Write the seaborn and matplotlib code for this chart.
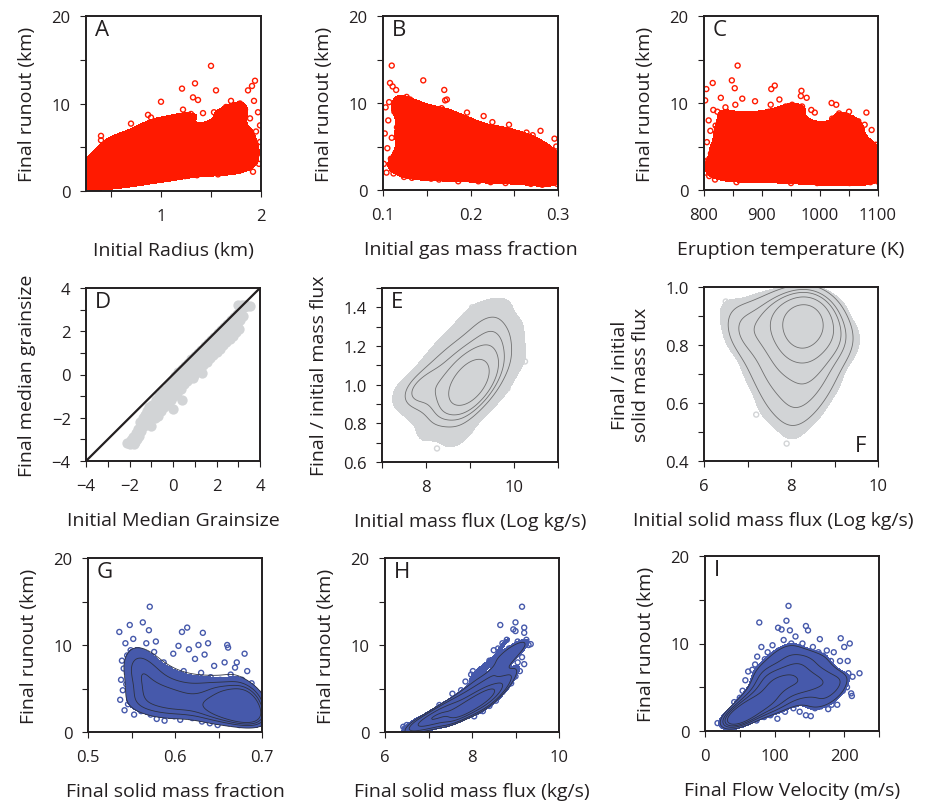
import numpy as np
import pandas as pd
import seaborn as sns
import matplotlib
matplotlib.use("Agg")
import matplotlib.pyplot as plt
from matplotlib.colors import ListedColormap
from matplotlib.ticker import MultipleLocator

sns.set_theme(style="ticks")
plt.rcParams["font.family"] = ["Open Sans", "DejaVu Sans"]

RED = "#ff1a00"
BLUE = "#4659ab"
GREY = "#d2d4d6"

# A: initial radius (km) vs final runout (km)
radius_pts = [
    (0.26, 0.8), (0.27, 1.5), (0.28, 2.3), (0.29, 3.4), (0.31, 1.1), (0.32, 2.8), (0.33, 3.9), (0.34, 0.7),
    (0.35, 1.9), (0.37, 2.6), (0.38, 4.4), (0.39, 1.3), (0.40, 6.3), (0.40, 5.8), (0.41, 3.1), (0.42, 0.9),
    (0.43, 2.0), (0.44, 3.6), (0.46, 1.5), (0.47, 4.1), (0.48, 2.7), (0.50, 0.8), (0.51, 3.3), (0.52, 5.2),
    (0.53, 1.8), (0.55, 2.4), (0.56, 6.0), (0.57, 4.5), (0.58, 1.2), (0.59, 3.0), (0.61, 5.5), (0.62, 2.1),
    (0.63, 3.8), (0.64, 0.9), (0.65, 6.3), (0.66, 2.9), (0.67, 4.7), (0.68, 1.6), (0.70, 7.7), (0.70, 3.5),
    (0.72, 5.1), (0.73, 2.3), (0.74, 1.1), (0.76, 4.2), (0.77, 6.0), (0.78, 2.6), (0.79, 3.4), (0.80, 1.4),
    (0.81, 7.1), (0.82, 5.0), (0.83, 2.0), (0.85, 4.0), (0.86, 6.5), (0.87, 8.7), (0.88, 1.3), (0.89, 3.1),
    (0.90, 8.4), (0.91, 5.4), (0.92, 2.4), (0.93, 7.0), (0.95, 3.8), (0.96, 1.6), (0.97, 6.0), (0.98, 4.6),
    (1.00, 10.2), (1.01, 2.9), (1.02, 7.8), (1.03, 5.2), (1.04, 1.5), (1.05, 3.6), (1.06, 6.6), (1.08, 8.3),
    (1.09, 2.2), (1.10, 4.4), (1.12, 6.0), (1.13, 1.6), (1.14, 3.2), (1.15, 7.3), (1.17, 5.0), (1.18, 2.5),
    (1.20, 8.0), (1.21, 11.7), (1.22, 9.3), (1.23, 3.9), (1.24, 1.7), (1.26, 6.4), (1.27, 4.5), (1.28, 2.8),
    (1.30, 8.8), (1.31, 5.6), (1.32, 10.7), (1.33, 3.3), (1.34, 12.3), (1.35, 7.2), (1.36, 1.8), (1.37, 10.4),
    (1.38, 4.9), (1.40, 6.3), (1.41, 2.6), (1.42, 8.9), (1.44, 3.8), (1.45, 5.5), (1.47, 7.0), (1.48, 2.1),
    (1.50, 14.3), (1.49, 4.3), (1.52, 6.6), (1.53, 9.0), (1.54, 3.2), (1.55, 11.5), (1.56, 5.1), (1.57, 1.9),
    (1.59, 8.0), (1.60, 4.0), (1.62, 6.8), (1.63, 2.5), (1.65, 9.6), (1.66, 5.5), (1.67, 3.4), (1.69, 7.7),
    (1.70, 10.3), (1.71, 4.6), (1.72, 2.2), (1.74, 6.2), (1.75, 8.8), (1.77, 3.6), (1.78, 5.3), (1.79, 10.0),
    (1.80, 2.4), (1.81, 7.2), (1.82, 4.4), (1.84, 9.3), (1.85, 6.0), (1.86, 2.8), (1.87, 11.5), (1.88, 3.9),
    (1.89, 8.3), (1.90, 5.0), (1.91, 12.0), (1.92, 2.2), (1.93, 10.3), (1.94, 12.6), (1.95, 6.8), (1.96, 4.2),
    (1.97, 9.0), (1.98, 3.1), (1.99, 7.5), (1.99, 5.6),
]

# B: initial gas mass fraction vs final runout (km)
gas_pts = [
    (0.101, 3.0), (0.102, 6.5), (0.103, 9.5), (0.104, 2.0), (0.105, 4.8), (0.106, 8.0), (0.107, 10.1),
    (0.108, 12.3), (0.109, 3.6), (0.110, 14.3), (0.110, 6.0), (0.111, 11.9), (0.112, 1.9), (0.113, 9.0),
    (0.114, 4.2), (0.115, 11.5), (0.116, 7.2), (0.117, 2.6), (0.118, 10.3), (0.119, 5.4), (0.121, 8.4),
    (0.122, 3.1), (0.123, 6.8), (0.124, 1.5), (0.125, 9.7), (0.126, 4.5), (0.127, 10.7), (0.128, 7.5),
    (0.129, 2.4), (0.130, 5.7), (0.131, 10.4), (0.132, 3.4), (0.133, 1.4), (0.134, 8.6), (0.135, 6.2),
    (0.136, 9.6), (0.137, 4.0), (0.138, 2.0), (0.139, 7.8), (0.141, 5.0), (0.142, 9.0), (0.143, 3.0),
    (0.144, 6.6), (0.145, 1.6), (0.146, 12.6), (0.147, 8.2), (0.148, 4.3), (0.149, 9.2), (0.150, 2.5),
    (0.152, 7.0), (0.153, 5.6), (0.155, 1.3), (0.156, 8.6), (0.157, 3.7), (0.158, 6.0), (0.160, 2.2),
    (0.161, 4.9), (0.162, 8.5), (0.164, 1.2), (0.165, 7.2), (0.166, 3.2), (0.167, 9.4), (0.168, 5.3),
    (0.169, 2.0), (0.170, 11.5), (0.171, 10.3), (0.172, 6.5), (0.173, 10.4), (0.174, 4.0), (0.175, 8.8),
    (0.176, 1.5), (0.178, 7.5), (0.179, 3.0), (0.181, 5.8), (0.182, 8.4), (0.183, 2.4), (0.185, 4.6),
    (0.186, 1.0), (0.187, 6.8), (0.188, 3.6), (0.190, 7.8), (0.191, 5.2), (0.192, 1.7), (0.194, 6.1),
    (0.195, 2.8), (0.196, 8.9), (0.197, 4.1), (0.199, 7.4), (0.200, 1.2), (0.201, 5.5), (0.203, 3.3),
    (0.204, 7.6), (0.205, 2.0), (0.207, 6.0), (0.208, 4.4), (0.209, 1.0), (0.211, 5.0), (0.212, 3.0),
    (0.214, 6.5), (0.215, 8.5), (0.216, 1.7), (0.218, 4.2), (0.219, 2.4), (0.221, 5.4), (0.222, 3.6),
    (0.223, 0.9), (0.225, 7.8), (0.226, 4.8), (0.227, 2.0), (0.229, 6.4), (0.230, 3.0), (0.232, 1.3),
    (0.233, 5.2), (0.235, 3.8), (0.236, 7.0), (0.237, 2.3), (0.239, 4.6), (0.240, 0.8), (0.242, 5.8),
    (0.243, 3.2), (0.244, 7.5), (0.245, 6.6), (0.246, 1.6), (0.248, 4.1), (0.249, 2.6), (0.251, 5.0),
    (0.253, 1.0), (0.254, 3.5), (0.256, 5.8), (0.257, 2.2), (0.259, 4.4), (0.260, 1.4), (0.262, 3.1),
    (0.264, 6.6), (0.265, 5.0), (0.266, 2.0), (0.268, 3.8), (0.269, 0.7), (0.271, 6.3), (0.272, 2.8),
    (0.274, 4.6), (0.275, 1.2), (0.277, 3.4), (0.278, 5.2), (0.280, 6.8), (0.281, 2.0), (0.282, 0.6),
    (0.284, 4.0), (0.285, 2.6), (0.287, 1.5), (0.288, 3.6), (0.290, 4.4), (0.291, 0.9), (0.292, 2.3),
    (0.294, 3.1), (0.295, 1.4), (0.296, 5.9), (0.297, 4.0), (0.298, 2.0), (0.299, 0.7), (0.299, 3.3),
    (0.298, 5.0),
]

# C: eruption temperature (K) vs final runout (km)
temp_pts = [
    (802, 10.3), (803, 2.0), (804, 11.6), (805, 5.5), (806, 3.4), (808, 8.0), (809, 1.6), (811, 6.8),
    (812, 4.2), (813, 2.6), (815, 12.3), (816, 9.2), (817, 5.0), (819, 1.2), (820, 7.4), (822, 3.0),
    (823, 9.0), (825, 4.6), (826, 2.2), (828, 6.2), (829, 10.6), (831, 8.6), (832, 3.8), (834, 1.4),
    (835, 5.8), (837, 9.5), (838, 2.7), (840, 7.0), (841, 4.4), (843, 1.9), (845, 6.4), (846, 3.2),
    (848, 12.6), (849, 8.0), (850, 5.2), (851, 2.3), (853, 11.7), (854, 9.8), (855, 4.0), (856, 0.9),
    (858, 14.3), (859, 6.6), (860, 3.0), (862, 7.6), (863, 1.5), (865, 5.0), (866, 10.5), (868, 2.5),
    (869, 8.2), (870, 4.2), (872, 6.0), (873, 1.8), (875, 7.2), (876, 3.4), (878, 5.4), (880, 2.0),
    (881, 8.4), (883, 4.6), (884, 1.3), (886, 6.8), (888, 10.2), (889, 3.0), (891, 5.6), (892, 8.6),
    (894, 2.2), (895, 7.0), (897, 4.0), (898, 1.5), (900, 6.2), (902, 3.2), (903, 8.0), (905, 5.0),
    (906, 1.2), (908, 7.5), (909, 2.6), (911, 4.4), (912, 9.0), (913, 6.3), (915, 9.8), (916, 11.6),
    (917, 3.6), (919, 1.4), (920, 5.6), (922, 12.0), (923, 8.4), (924, 2.4), (926, 7.0), (927, 4.2),
    (929, 1.1), (930, 10.4), (931, 6.0), (933, 3.0), (935, 7.8), (936, 5.0), (938, 1.8), (940, 4.0),
    (941, 9.6), (943, 6.6), (944, 2.2), (946, 8.5), (947, 3.6), (949, 5.8), (950, 0.8), (952, 9.8),
    (953, 4.6), (955, 2.6), (956, 7.2), (958, 1.4), (959, 5.2), (961, 3.2), (962, 8.3), (964, 6.3),
    (965, 1.0), (967, 10.8), (968, 11.4), (969, 9.6), (970, 4.0), (972, 2.0), (973, 7.5), (975, 5.4),
    (977, 10.6), (978, 3.0), (980, 6.6), (981, 1.5), (983, 4.6), (985, 9.2), (986, 2.5), (988, 7.4),
    (989, 5.0), (991, 8.9), (992, 1.2), (994, 3.6), (995, 0.8), (997, 6.2), (998, 4.4), (1000, 2.2),
    (1002, 5.8), (1003, 3.0), (1005, 1.4), (1006, 4.8), (1008, 6.6), (1010, 2.6), (1011, 3.8), (1013, 1.0),
    (1014, 5.4), (1016, 7.0), (1018, 2.0), (1019, 4.2), (1020, 10.0), (1021, 8.2), (1022, 3.2), (1024, 5.8),
    (1025, 1.2), (1027, 6.6), (1028, 9.8), (1030, 2.6), (1031, 4.6), (1033, 8.8), (1034, 3.4), (1036, 1.0),
    (1037, 5.6), (1039, 7.2), (1040, 2.2), (1042, 4.0), (1043, 8.6), (1045, 6.2), (1046, 1.5), (1048, 3.0),
    (1050, 9.0), (1051, 0.8), (1052, 5.0), (1054, 2.4), (1056, 4.2), (1057, 7.0), (1058, 1.6), (1060, 7.5),
    (1061, 3.4), (1063, 5.4), (1064, 2.0), (1066, 7.9), (1067, 4.6), (1069, 1.2), (1070, 3.0), (1072, 6.0),
    (1073, 2.6), (1075, 4.4), (1077, 7.5), (1078, 1.4), (1080, 8.9), (1081, 3.6), (1083, 5.2), (1084, 2.0),
    (1086, 4.0), (1087, 0.9), (1089, 6.9), (1090, 2.8), (1092, 4.8), (1093, 1.5), (1095, 3.4), (1096, 5.2),
    (1098, 2.2), (1099, 4.0), (1099, 1.0),
]

# D: initial vs final median grainsize (phi)
grain_pts = [
    (-2.1, -3.15), (-2.0, -3.2), (-1.95, -3.05), (-1.9, -3.18), (-1.85, -2.9), (-1.8, -3.2), (-1.75, -3.1),
    (-1.7, -2.7), (-1.65, -3.0), (-1.6, -2.5), (-1.55, -2.85), (-1.5, -2.2), (-1.45, -2.6), (-1.4, -2.0),
    (-1.35, -2.4), (-1.3, -1.85), (-1.25, -2.2), (-1.2, -1.7), (-1.15, -2.3), (-1.1, -1.5), (-1.05, -1.95),
    (-1.0, -2.4), (-0.95, -1.4), (-0.9, -1.75), (-0.85, -2.0), (-0.8, -1.2), (-0.75, -1.55), (-0.7, -1.9),
    (-0.65, -1.0), (-0.6, -1.4), (-0.55, -1.7), (-0.5, -0.85), (-0.45, -1.2), (-0.4, -1.5), (-0.35, -0.7),
    (-0.3, -1.05), (-0.25, -1.35), (-0.2, -0.5), (-0.15, -0.9), (-0.1, -1.2), (-0.05, -0.3), (0.0, -0.7),
    (0.0, -1.6), (0.05, -1.0), (0.1, -0.05), (0.15, -0.5), (0.2, -0.85), (0.25, 0.1), (0.3, -0.3),
    (0.35, -0.65), (0.4, 0.25), (0.43, -1.2), (0.45, -0.1), (0.5, -0.45), (0.55, 0.4), (0.6, 0.05),
    (0.65, -0.3), (0.7, 0.55), (0.75, 0.2), (0.8, -0.15), (0.85, 0.7), (0.9, 0.35), (0.92, -0.15),
    (0.95, 0.0), (1.0, 0.85), (1.05, 0.5), (1.1, 0.15), (1.15, 1.0), (1.2, 0.65), (1.25, 0.3), (1.3, 1.15),
    (1.35, 0.05), (1.35, 0.8), (1.4, 0.45), (1.45, 1.3), (1.5, 0.95), (1.55, 0.6), (1.6, 1.45), (1.65, 1.1),
    (1.7, 0.75), (1.75, 1.6), (1.8, 1.25), (1.85, 0.9), (1.85, 1.17), (1.9, 1.75), (1.95, 1.4), (2.0, 1.05),
    (2.05, 1.9), (2.1, 1.55), (2.15, 1.2), (2.2, 2.05), (2.25, 1.7), (2.3, 1.35), (2.35, 2.2), (2.4, 1.85),
    (2.45, 1.5), (2.5, 2.35), (2.55, 2.0), (2.6, 1.65), (2.65, 2.5), (2.7, 2.15), (2.75, 1.8), (2.8, 2.65),
    (2.85, 2.3), (2.9, 1.95), (2.95, 2.8), (3.0, 2.45), (3.0, 3.2), (3.05, 2.1), (3.1, 2.95), (3.1, 2.5),
    (3.15, 3.2), (3.2, 2.7), (3.25, 3.1), (3.3, 3.2), (3.4, 3.15), (3.55, 3.18),
]
one_to_one = [-4, 4]

# E: initial mass flux (log kg/s) vs final/initial mass flux
flux_pts = [
    (7.4, 0.97), (7.45, 0.98), (7.5, 0.96), (7.55, 0.91), (7.6, 0.92), (7.65, 0.98), (7.7, 0.95), (7.75, 1.0),
    (7.8, 0.9), (7.85, 0.97), (7.9, 1.03), (7.9, 0.87), (7.95, 0.94), (7.75, 0.86), (7.85, 0.8), (8.0, 0.76),
    (7.95, 1.07), (8.05, 0.99), (8.1, 0.9), (8.1, 1.1), (8.15, 0.84), (8.2, 1.0), (8.2, 1.14), (8.25, 0.93),
    (8.3, 0.8), (8.3, 1.06), (8.35, 1.2), (8.35, 0.88), (8.4, 0.97), (8.4, 1.12), (8.45, 0.78), (8.5, 1.03),
    (8.5, 0.92), (8.5, 1.25), (8.55, 1.1), (8.55, 0.85), (8.6, 0.99), (8.6, 1.18), (8.6, 0.74), (8.65, 0.9),
    (8.65, 1.05), (8.7, 1.3), (8.7, 0.96), (8.7, 0.8), (8.75, 1.13), (8.75, 1.02), (8.8, 0.88), (8.8, 1.22),
    (8.8, 0.72), (8.85, 1.08), (8.85, 0.95), (8.9, 1.36), (8.9, 1.15), (8.9, 1.0), (8.9, 0.82), (8.95, 1.26),
    (8.95, 0.91), (9.0, 1.05), (9.0, 1.2), (9.0, 0.76), (9.0, 0.97), (9.05, 1.4), (9.05, 1.1), (9.05, 0.88),
    (9.1, 1.3), (9.1, 1.02), (9.1, 0.93), (9.15, 1.17), (9.15, 0.84), (9.2, 1.35), (9.2, 1.08), (9.2, 0.98),
    (9.25, 1.24), (9.25, 0.9), (9.3, 1.4), (9.3, 1.14), (9.3, 1.02), (9.35, 1.3), (9.35, 0.95), (9.4, 1.2),
    (9.4, 1.06), (9.45, 1.37), (9.45, 0.88), (9.5, 1.28), (9.5, 1.12), (9.5, 1.0), (9.55, 1.42), (9.55, 1.2),
    (9.6, 1.32), (9.6, 1.06), (9.6, 0.94), (9.65, 1.25), (9.7, 1.38), (9.7, 1.15), (9.7, 1.0), (9.75, 1.28),
    (9.8, 1.35), (9.8, 1.1), (9.85, 1.22), (9.85, 0.98), (9.9, 1.3), (9.9, 1.05), (9.95, 1.18), (10.0, 1.26),
    (10.0, 1.12), (10.05, 1.21), (10.1, 1.15), (10.1, 1.3), (10.25, 1.12), (9.8, 1.41), (8.8, 0.98),
    (9.0, 1.13), (9.1, 1.07), (9.2, 1.03), (8.95, 1.01), (9.3, 1.08), (8.85, 1.03), (9.15, 0.99), (8.75, 0.92),
    (9.05, 1.0), (8.65, 0.7), (8.45, 1.2), (8.2, 0.79), (8.0, 1.12), (7.95, 0.73), (8.25, 0.67),
]

# F: initial solid mass flux (log kg/s) vs final/initial solid mass flux
solid_flux_pts = [
    (6.5, 0.95), (6.5, 0.91), (6.6, 0.9), (6.65, 0.83), (6.7, 0.86), (6.75, 0.81), (6.85, 0.83), (6.9, 0.92),
    (6.95, 0.77), (7.0, 0.85), (7.0, 0.72), (7.05, 0.93), (7.1, 0.8), (7.1, 0.68), (7.15, 0.89), (7.2, 0.75),
    (7.2, 0.56), (7.25, 0.95), (7.3, 0.84), (7.3, 0.65), (7.35, 0.71), (7.4, 0.9), (7.4, 0.6), (7.45, 0.79),
    (7.5, 0.96), (7.5, 0.86), (7.5, 0.67), (7.55, 0.74), (7.6, 0.92), (7.6, 0.53), (7.65, 0.82), (7.65, 0.63),
    (7.7, 0.88), (7.7, 0.7), (7.75, 0.95), (7.75, 0.58), (7.8, 0.85), (7.8, 0.76), (7.85, 0.66), (7.85, 0.55),
    (7.9, 0.91), (7.9, 0.8), (7.9, 0.46), (7.95, 0.72), (8.0, 0.97), (8.0, 0.87), (8.0, 0.62), (8.05, 0.78),
    (8.05, 0.52), (8.1, 0.93), (8.1, 0.84), (8.1, 0.68), (8.15, 0.57), (8.2, 0.89), (8.2, 0.75), (8.2, 0.5),
    (8.25, 0.95), (8.25, 0.82), (8.25, 0.63), (8.3, 0.87), (8.3, 0.7), (8.35, 0.92), (8.35, 0.78), (8.35, 0.58),
    (8.4, 0.85), (8.4, 0.66), (8.45, 0.97), (8.45, 0.89), (8.45, 0.55), (8.5, 0.81), (8.5, 0.72), (8.55, 0.93),
    (8.55, 0.62), (8.6, 0.86), (8.6, 0.76), (8.65, 0.9), (8.65, 0.67), (8.7, 0.83), (8.7, 0.58), (8.75, 0.95),
    (8.75, 0.73), (8.8, 0.88), (8.8, 0.64), (8.85, 0.8), (8.9, 0.92), (8.9, 0.7), (8.95, 0.85), (9.0, 0.77),
    (9.0, 0.66), (9.05, 0.9), (9.1, 0.82), (9.1, 0.72), (9.15, 0.94), (9.2, 0.86), (9.25, 0.79), (9.3, 0.84),
    (9.35, 0.77), (9.5, 0.83), (8.3, 0.9), (8.2, 0.86), (8.4, 0.88), (8.1, 0.89), (8.25, 0.84), (8.35, 0.86),
    (8.15, 0.8), (8.45, 0.83), (8.0, 0.82), (8.5, 0.9), (7.95, 0.88), (8.3, 0.94), (8.6, 0.94), (7.85, 0.93),
]

# G: final solid mass fraction vs final runout (km)
fraction_pts = [
    (0.536, 11.5), (0.537, 3.7), (0.538, 6.0), (0.539, 8.2), (0.540, 4.8), (0.541, 7.3), (0.542, 2.5),
    (0.543, 10.2), (0.544, 5.5), (0.545, 8.8), (0.546, 3.2), (0.547, 6.8), (0.548, 12.3), (0.549, 9.4),
    (0.550, 4.2), (0.551, 7.8), (0.552, 10.7), (0.553, 2.0), (0.554, 5.9), (0.555, 8.6), (0.556, 3.6),
    (0.557, 7.0), (0.558, 9.4), (0.559, 4.6), (0.560, 6.4), (0.561, 2.4), (0.562, 8.0), (0.563, 12.6),
    (0.564, 5.2), (0.565, 3.0), (0.566, 7.4), (0.567, 10.2), (0.568, 4.0), (0.569, 6.0), (0.570, 11.7),
    (0.571, 14.4), (0.572, 2.0), (0.573, 8.6), (0.574, 5.0), (0.575, 3.4), (0.576, 9.2), (0.577, 6.6),
    (0.578, 10.4), (0.579, 1.5), (0.580, 4.4), (0.582, 7.6), (0.583, 2.6), (0.584, 5.6), (0.586, 3.8),
    (0.587, 8.0), (0.588, 1.3), (0.590, 6.3), (0.591, 4.6), (0.592, 2.4), (0.594, 7.2), (0.595, 3.2),
    (0.596, 5.2), (0.598, 9.0), (0.599, 1.8), (0.600, 4.0), (0.602, 6.6), (0.603, 2.9), (0.604, 9.9),
    (0.605, 5.0), (0.606, 1.4), (0.608, 11.5), (0.609, 3.6), (0.610, 7.0), (0.612, 4.6), (0.613, 2.2),
    (0.614, 12.0), (0.615, 5.8), (0.616, 9.5), (0.618, 3.0), (0.619, 6.2), (0.620, 1.6), (0.622, 4.2),
    (0.623, 8.4), (0.624, 2.6), (0.626, 5.4), (0.627, 10.0), (0.628, 3.6), (0.630, 6.8), (0.631, 1.2),
    (0.632, 11.4), (0.633, 4.4), (0.634, 8.9), (0.635, 2.2), (0.637, 5.6), (0.638, 10.2), (0.639, 3.0),
    (0.640, 1.0), (0.641, 6.3), (0.643, 4.0), (0.644, 2.0), (0.645, 7.6), (0.647, 3.4), (0.648, 5.2),
    (0.649, 0.8), (0.650, 2.6), (0.652, 6.0), (0.653, 4.4), (0.654, 1.5), (0.655, 3.2), (0.657, 8.0),
    (0.658, 5.0), (0.659, 2.2), (0.660, 10.0), (0.661, 9.7), (0.662, 1.0), (0.663, 3.8), (0.664, 6.6),
    (0.665, 2.8), (0.667, 4.6), (0.668, 1.6), (0.669, 7.4), (0.670, 3.4), (0.671, 8.0), (0.672, 2.0),
    (0.673, 5.4), (0.674, 0.8), (0.675, 4.0), (0.676, 2.6), (0.677, 6.0), (0.678, 1.4), (0.679, 3.6),
    (0.680, 9.0), (0.681, 5.0), (0.682, 2.2), (0.683, 7.0), (0.684, 1.0), (0.685, 3.0), (0.686, 4.6),
    (0.687, 1.8), (0.688, 5.6), (0.689, 2.6), (0.690, 0.9), (0.691, 3.8), (0.692, 4.8), (0.693, 1.6),
    (0.694, 2.8), (0.695, 3.6), (0.696, 1.2), (0.697, 4.4), (0.698, 2.2), (0.699, 3.0), (0.699, 1.6),
]

# H: final solid mass flux vs final runout (km)
final_flux_pts = [
    (6.42, 0.6), (6.45, 0.4), (6.5, 0.8), (6.55, 0.5), (6.6, 0.6), (6.7, 0.9), (6.7, 0.5), (6.75, 1.2),
    (6.8, 0.7), (6.85, 1.0), (6.9, 0.6), (6.95, 1.5), (7.0, 0.9), (7.0, 1.9), (7.05, 1.2), (7.1, 0.7),
    (7.1, 1.6), (7.15, 2.0), (7.2, 1.0), (7.2, 2.4), (7.25, 1.4), (7.25, 3.1), (7.3, 1.8), (7.3, 1.0),
    (7.35, 2.6), (7.4, 1.3), (7.4, 2.1), (7.45, 3.0), (7.5, 1.6), (7.5, 2.5), (7.55, 4.4), (7.55, 1.2),
    (7.6, 3.4), (7.6, 2.0), (7.65, 2.8), (7.7, 1.5), (7.7, 3.9), (7.75, 2.3), (7.75, 4.8), (7.8, 3.2),
    (7.8, 1.8), (7.85, 5.8), (7.85, 2.8), (7.9, 4.1), (7.9, 2.1), (7.95, 5.0), (7.95, 3.4), (7.98, 6.6),
    (8.0, 2.5), (8.0, 4.4), (8.02, 7.0), (8.05, 3.6), (8.05, 1.8), (8.1, 5.4), (8.1, 2.8), (8.15, 6.4),
    (8.15, 4.0), (8.2, 3.0), (8.2, 7.2), (8.2, 5.0), (8.25, 2.4), (8.25, 6.0), (8.3, 4.4), (8.3, 7.6),
    (8.35, 3.4), (8.35, 5.6), (8.4, 8.2), (8.4, 4.9), (8.4, 3.0), (8.45, 6.6), (8.5, 9.4), (8.5, 4.0),
    (8.5, 5.8), (8.55, 7.6), (8.55, 3.6), (8.6, 9.6), (8.6, 5.0), (8.6, 6.8), (8.65, 12.3), (8.65, 8.6),
    (8.7, 4.6), (8.7, 7.4), (8.7, 10.2), (8.75, 6.0), (8.75, 9.0), (8.8, 5.2), (8.8, 8.0), (8.8, 10.6),
    (8.85, 6.6), (8.85, 9.6), (8.9, 5.6), (8.9, 8.6), (8.95, 11.8), (8.95, 7.2), (9.0, 12.6), (9.0, 11.6),
    (9.0, 6.4), (9.0, 9.2), (9.05, 8.0), (9.05, 10.4), (9.1, 7.0), (9.1, 9.8), (9.15, 14.4), (9.15, 8.6),
    (9.2, 12.0), (9.2, 11.4), (9.2, 10.2), (9.2, 7.8), (9.25, 10.6), (9.3, 10.0), (9.35, 10.1), (8.6, 4.2),
    (8.3, 3.8), (8.0, 3.0), (8.1, 3.4), (8.2, 3.8), (8.4, 4.2), (8.45, 5.0), (8.5, 4.8), (7.9, 2.8),
    (7.7, 2.4), (7.6, 1.7),
]

# I: final flow velocity (m/s) vs final runout (km)
velocity_pts = [
    (18, 0.9), (25, 0.6), (28, 1.5), (30, 0.8), (32, 1.8), (35, 1.2), (36, 0.5), (38, 2.2), (40, 1.0),
    (42, 3.3), (43, 1.6), (45, 0.6), (46, 2.6), (48, 1.3), (50, 3.8), (50, 2.0), (52, 0.8), (54, 4.6),
    (55, 2.8), (56, 1.5), (58, 5.8), (58, 3.4), (60, 2.2), (61, 1.0), (62, 6.8), (63, 4.2), (64, 2.6),
    (66, 1.6), (67, 5.0), (68, 7.0), (69, 3.2), (70, 2.0), (72, 5.8), (72, 7.6), (73, 4.0), (74, 1.2),
    (75, 8.5), (76, 3.0), (77, 6.2), (78, 12.4), (79, 4.8), (80, 2.2), (81, 9.6), (82, 7.0), (83, 3.6),
    (84, 5.4), (85, 1.6), (86, 8.2), (87, 4.4), (88, 6.4), (89, 2.8), (90, 9.0), (91, 5.0), (92, 3.4),
    (93, 7.4), (94, 1.8), (95, 6.0), (96, 4.0), (97, 9.8), (98, 2.6), (99, 7.0), (100, 5.0), (101, 3.2),
    (102, 8.6), (103, 6.0), (104, 1.4), (105, 11.8), (105, 4.4), (106, 9.2), (107, 7.0), (108, 2.6),
    (109, 5.4), (110, 11.6), (110, 8.4), (111, 3.6), (112, 6.2), (113, 10.4), (114, 4.6), (115, 2.2),
    (116, 7.6), (117, 12.6), (117, 5.6), (118, 9.4), (119, 3.2), (120, 14.3), (120, 6.6), (121, 8.2),
    (122, 11.5), (122, 4.2), (124, 10.0), (125, 5.4), (126, 7.2), (127, 2.6), (128, 9.0), (129, 6.0),
    (130, 10.8), (130, 3.8), (132, 8.0), (133, 5.0), (134, 6.8), (135, 9.6), (136, 2.2), (137, 4.4),
    (138, 7.6), (139, 5.8), (140, 10.0), (141, 3.4), (142, 8.6), (143, 6.4), (144, 4.8), (145, 12.0),
    (145, 1.8), (146, 9.0), (147, 7.0), (148, 11.5), (148, 5.2), (149, 3.0), (150, 8.2), (151, 6.0),
    (152, 1.7), (153, 4.2), (155, 9.6), (156, 7.2), (157, 5.0), (158, 2.6), (160, 8.0), (161, 6.2),
    (162, 3.8), (163, 9.0), (164, 5.4), (165, 10.5), (166, 2.8), (168, 7.0), (169, 4.4), (170, 8.6),
    (171, 6.0), (172, 3.2), (174, 5.0), (175, 9.2), (176, 7.4), (177, 2.5), (178, 4.0), (180, 6.4),
    (181, 8.0), (182, 3.0), (184, 5.4), (185, 9.0), (186, 7.0), (188, 4.2), (190, 6.0), (190, 3.0),
    (192, 5.0), (194, 8.0), (195, 10.6), (196, 6.4), (198, 4.6), (200, 9.6), (202, 6.0), (204, 5.0),
    (205, 8.0), (206, 6.6), (208, 10.0), (210, 4.3), (211, 4.0), (212, 6.2), (222, 6.6),
]

fig = plt.figure(figsize=(9.25, 8.03), dpi=100)


def make_ax(l, t, w, h):
    return fig.add_axes([l / 925, 1 - (t + h) / 803, w / 925, h / 803])


def rings(ax, df, color):
    sns.scatterplot(data=df, x="x", y="y", ax=ax, s=13, facecolor="none", edgecolor=color,
                    linewidth=1.0, zorder=2)


def cloud(ax, pts, color, level=0.3, bw=0.7, lines=None, thresh=0.3, nlev=5, lbw=None):
    df = pd.DataFrame(pts, columns=["x", "y"])
    sns.kdeplot(data=df, x="x", y="y", ax=ax, fill=True, levels=[level, 1],
                cmap=ListedColormap([color]), bw_adjust=bw)
    rings(ax, df, color)
    if lines:
        sns.kdeplot(data=df, x="x", y="y", ax=ax, levels=nlev, thresh=thresh, color=lines,
                    linewidths=0.6, bw_adjust=lbw or bw)


def style(ax, xlim, ylim, xt, yt, xlabel, ylabel, letter, corner="tl"):
    ax.set_xlim(xlim)
    ax.set_ylim(ylim)
    ax.xaxis.set_major_locator(MultipleLocator(xt[0]))
    ax.xaxis.set_minor_locator(MultipleLocator(xt[1]))
    ax.yaxis.set_major_locator(MultipleLocator(yt[0]))
    ax.yaxis.set_minor_locator(MultipleLocator(yt[1]))
    ax.set_xlabel(xlabel, fontsize=14, labelpad=12, color="#231f20")
    ax.set_ylabel(ylabel, fontsize=14, labelpad=11, color="#231f20")
    for s in ax.spines.values():
        s.set_linewidth(1.4)
        s.set_color("#231f20")
        s.set_zorder(5)
    ax.tick_params(which="both", direction="out", length=4, width=0.8, labelsize=12,
                   color="#231f20", labelcolor="#231f20")
    ax.tick_params(axis="x", which="both", pad=8.5)
    ax.tick_params(axis="y", which="both", pad=7)
    if corner == "tl":
        ax.text(0.05, 0.985, letter, transform=ax.transAxes, fontsize=16, va="top", ha="left",
                color="#231f20", zorder=6)
    else:
        ax.text(0.935, 0.03, letter, transform=ax.transAxes, fontsize=16, va="bottom", ha="right",
                color="#231f20", zorder=6)


runout = "Final runout (km)"

ax = make_ax(86, 17, 175, 175)
cloud(ax, radius_pts, RED, level=0.27, bw=0.7)
style(ax, (0.25, 2), (0, 20), (1, 0.5), (10, 5), "Initial Radius (km)", runout, "A")

ax = make_ax(383, 17, 175, 174)
cloud(ax, gas_pts, RED, level=0.27, bw=0.7)
style(ax, (0.1, 0.3), (0, 20), (0.1, 0.05), (10, 5), "Initial gas mass fraction", runout, "B")

ax = make_ax(704, 17, 174, 174)
cloud(ax, temp_pts, RED, level=0.27, bw=0.7)
style(ax, (800, 1100), (0, 20), (100, 50), (10, 5), "Eruption temperature (K)", runout, "C")

# D: the band is dense, so each run also gets a wider solid disc underneath
ax = make_ax(86, 289, 174, 173)
grain_df = pd.DataFrame(grain_pts, columns=["x", "y"])
sns.scatterplot(data=grain_df, x="x", y="y", ax=ax, s=55, color=GREY, linewidth=0, zorder=1)
rings(ax, grain_df, GREY)
sns.lineplot(x=one_to_one, y=one_to_one, ax=ax, color="#231f20", linewidth=1.6, zorder=4)
style(ax, (-4, 4), (-4, 4), (2, 1), (2, 1), "Initial Median Grainsize", "Final median grainsize", "D")

ax = make_ax(382, 289, 176, 174)
cloud(ax, flux_pts, GREY, level=0.12, bw=0.8, lines="#707070", thresh=0.4, nlev=5, lbw=1.1)
style(ax, (7, 11), (0.6, 1.5), (2, 1), (0.2, 0.1), "Initial mass flux (Log kg/s)",
      "Final / initial mass flux", "E")

ax = make_ax(704, 288, 174, 174)
cloud(ax, solid_flux_pts, GREY, level=0.12, bw=0.8, lines="#707070", thresh=0.25, nlev=6, lbw=1.1)
style(ax, (6, 10), (0.4, 1.0), (2, 1), (0.2, 0.1), "Initial solid mass flux (Log kg/s)",
      "Final / initial\nsolid mass flux", "F", corner="br")
ax.xaxis.label.set_x(0.4)

ax = make_ax(88, 559, 174, 174)
cloud(ax, fraction_pts, BLUE, level=0.4, bw=0.7, lines="#2d3140", thresh=0.4, nlev=5, lbw=0.8)
style(ax, (0.5, 0.7), (0, 20), (0.1, 0.05), (10, 5), "Final solid mass fraction", runout, "G")

ax = make_ax(385, 559, 174, 174)
cloud(ax, final_flux_pts, BLUE, level=0.3, bw=0.7, lines="#2d3140", thresh=0.4, nlev=5, lbw=0.8)
style(ax, (6, 10), (0, 20), (2, 1), (10, 5), "Final solid mass flux (kg/s)", runout, "H")

ax = make_ax(705, 557, 174, 175)
cloud(ax, velocity_pts, BLUE, level=0.35, bw=0.7, lines="#2d3140", thresh=0.4, nlev=5, lbw=0.8)
style(ax, (0, 250), (0, 20), (100, 50), (10, 5), "Final Flow Velocity (m/s)", runout, "I")

fig.savefig("out.png", dpi=100)
